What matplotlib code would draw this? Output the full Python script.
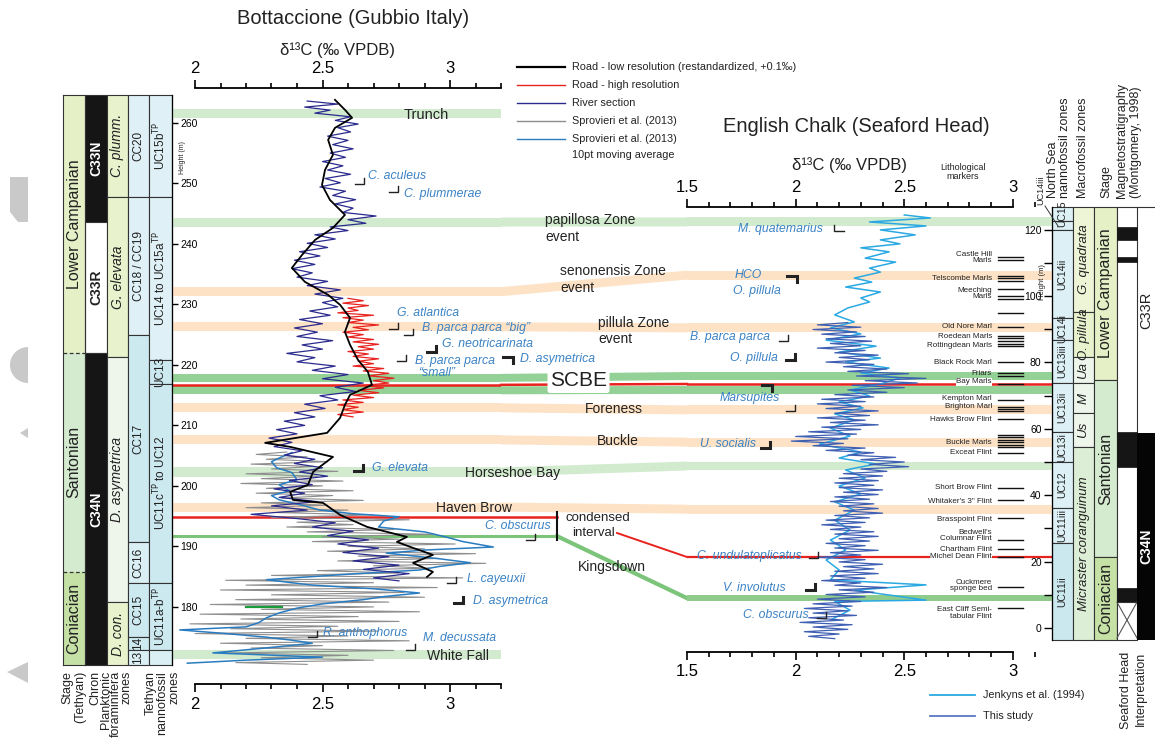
import numpy as np
import matplotlib.pyplot as plt
from matplotlib.patches import Rectangle, Polygon, Wedge
from matplotlib.transforms import blended_transform_factory as blend
from matplotlib.ticker import MultipleLocator

plt.rcParams['font.family'] = ['Liberation Sans', 'DejaVu Sans']

# ---------------- Bottaccione data (height m, d13C permil) ----------------
road_lo_h = [263.8, 262.15, 260.83, 259.17, 257.19, 254.71, 252.23, 249.75, 247.27, 244.79,
             242.64, 240.66, 238.18, 236.03, 233.72, 231.57, 229.92, 227.77, 225.45, 223.31,
             220.83, 218.84, 216.69, 215.04, 213.39, 211.24, 208.76, 207.11, 206.45, 204.79,
             202.31, 200.17, 199.01, 197.69, 197.19, 195.21, 193.22, 192.40, 191.57, 190.74,
             189.75, 188.60, 187.27, 185.79, 184.96]
road_lo_v = [2.549, 2.588, 2.616, 2.549, 2.522, 2.541, 2.510, 2.498, 2.529, 2.588,
             2.541, 2.471, 2.420, 2.380, 2.431, 2.522, 2.569, 2.608, 2.588, 2.608,
             2.639, 2.678, 2.694, 2.608, 2.588, 2.569, 2.518, 2.275, 2.373, 2.541,
             2.463, 2.443, 2.373, 2.384, 2.502, 2.569, 2.675, 2.753, 2.831, 2.792,
             2.855, 2.933, 2.855, 2.933, 2.910]

road_hi_h = [231.0, 230.6, 230.2, 229.8, 229.4, 229.0, 228.6, 228.2, 227.8, 227.4,
             227.0, 226.6, 226.2, 225.8, 225.4, 225.0, 224.6, 224.2, 223.8, 223.4,
             223.0, 222.6, 222.2, 221.8, 221.4, 221.0, 220.6, 220.2, 219.8, 219.4,
             219.0, 218.6, 218.2, 217.8, 217.4, 217.0, 216.6, 216.2, 215.8, 215.4,
             215.0, 214.6, 214.2, 213.8, 213.4, 213.0, 212.6, 212.2, 211.8, 211.4]
road_hi_v = [2.60, 2.66, 2.58, 2.68, 2.60, 2.64, 2.56, 2.70, 2.58, 2.66,
             2.60, 2.72, 2.62, 2.68, 2.58, 2.66, 2.60, 2.70, 2.62, 2.72,
             2.64, 2.70, 2.60, 2.68, 2.62, 2.72, 2.64, 2.70, 2.62, 2.74,
             2.66, 2.76, 2.68, 2.78, 2.70, 2.76, 2.66, 2.74, 2.64, 2.72,
             2.62, 2.70, 2.58, 2.66, 2.56, 2.64, 2.58, 2.66, 2.56, 2.62]

river_h = [263.6, 263.1, 262.6, 262.1, 261.6, 261.0, 260.4, 259.8, 259.2, 258.5,
           257.8, 257.1, 256.4, 255.7, 255.0, 254.3, 253.6, 252.9, 252.2, 251.5,
           250.8, 250.1, 249.4, 248.7, 248.0, 247.3, 246.6, 245.9, 245.2, 244.6,
           244.0, 243.4, 242.8, 242.2, 241.5, 240.8, 240.1, 239.4, 238.7, 238.0,
           237.3, 236.6, 235.9, 235.2, 234.5, 233.8, 233.1, 232.4, 231.7, 231.0,
           230.3, 229.6, 228.9, 228.2, 227.5, 226.8, 226.1, 225.4, 224.7, 224.0,
           223.3, 222.6, 221.9, 221.2, 220.5, 219.8, 219.1, 218.4, 217.7, 217.0,
           216.3, 215.6, 214.9, 214.2, 213.5, 212.8, 212.1, 211.4, 210.7, 210.0,
           209.3, 208.6, 207.9, 207.2, 206.5, 205.8, 205.1, 204.4, 203.7, 203.0,
           202.3, 201.6, 200.9, 200.2, 199.5, 198.8, 198.1, 197.4, 196.7, 196.0,
           195.3, 194.6, 193.9, 193.2, 192.5, 191.8, 191.1, 190.4, 189.7, 189.0,
           188.3, 187.6, 186.9, 186.2, 185.5, 184.8, 184.3]
river_v = [2.44, 2.56, 2.43, 2.53, 2.47, 2.61, 2.55, 2.64, 2.56, 2.61,
           2.52, 2.60, 2.54, 2.62, 2.53, 2.59, 2.50, 2.58, 2.52, 2.61,
           2.51, 2.57, 2.49, 2.59, 2.54, 2.63, 2.55, 2.62, 2.58, 2.71,
           2.60, 2.67, 2.53, 2.60, 2.47, 2.55, 2.44, 2.52, 2.41, 2.49,
           2.39, 2.47, 2.38, 2.46, 2.40, 2.52, 2.44, 2.57, 2.47, 2.58,
           2.50, 2.56, 2.45, 2.53, 2.41, 2.50, 2.39, 2.48, 2.40, 2.54,
           2.42, 2.50, 2.36, 2.47, 2.40, 2.55, 2.46, 2.60, 2.50, 2.66,
           2.55, 2.63, 2.49, 2.56, 2.43, 2.51, 2.39, 2.47, 2.35, 2.43,
           2.32, 2.40, 2.29, 2.38, 2.31, 2.42, 2.35, 2.47, 2.39, 2.50,
           2.41, 2.52, 2.37, 2.46, 2.31, 2.43, 2.33, 2.48, 2.30, 2.44,
           2.22, 2.40, 2.55, 2.46, 2.62, 2.52, 2.68, 2.56, 2.72, 2.58,
           2.76, 2.62, 2.80, 2.66, 2.84, 2.70, 2.80]

spr_h = [205.6, 205.2, 204.8, 204.4, 204.0, 203.6, 203.2, 202.8, 202.4, 202.0,
         201.6, 201.2, 200.8, 200.4, 200.0, 199.6, 199.2, 198.8, 198.4, 198.0,
         197.6, 197.2, 196.8, 196.4, 196.0, 195.6, 195.2, 194.8, 194.4, 194.0,
         193.6, 193.2, 192.8, 192.4, 192.0, 191.6, 191.2, 190.8, 190.4, 190.0,
         189.6, 189.2, 188.8, 188.4, 188.0, 187.6, 187.2, 186.8, 186.4, 186.0,
         185.6, 185.2, 184.8, 184.4, 184.0, 183.6, 183.2, 182.8, 182.4, 182.0,
         181.6, 181.2, 180.8, 180.4, 180.0, 179.6, 179.2, 178.8, 178.4, 178.0,
         177.6, 177.2, 176.8, 176.4, 176.0, 175.6, 175.2, 174.8, 174.4, 174.0,
         173.6, 173.2, 172.8, 172.4, 172.0, 171.6, 171.2, 170.8, 170.5]
spr_v = [2.36, 2.24, 2.44, 2.28, 2.52, 2.22, 2.46, 2.30, 2.56, 2.20,
         2.48, 2.26, 2.58, 2.18, 2.50, 2.28, 2.62, 2.24, 2.54, 2.34,
         2.66, 2.26, 2.52, 2.20, 2.60, 2.32, 2.70, 2.30, 2.84, 2.40,
         2.62, 2.36, 2.78, 2.44, 2.94, 2.50, 2.80, 2.46, 3.02, 2.60,
         2.90, 2.52, 3.10, 2.64, 2.96, 2.56, 3.14, 2.70, 2.92, 2.48,
         2.80, 2.30, 3.05, 2.12, 2.70, 2.20, 2.95, 2.10, 2.82, 2.30,
         2.90, 2.16, 2.76, 2.06, 2.70, 2.26, 2.88, 2.02, 2.64, 2.18,
         2.80, 1.98, 2.56, 2.14, 2.72, 2.00, 2.60, 2.20, 2.84, 2.10,
         2.50, 2.22, 2.78, 2.12, 2.60, 2.26, 2.70, 2.16, 2.44]

spr_ma_h = [205.5, 204.8, 204.0, 203.0, 202.2, 201.0, 200.2, 199.2, 198.4, 197.7,
            196.8, 196.0, 195.4, 194.9, 194.2, 193.2, 192.4, 191.6, 190.8, 189.9,
            189.4, 188.9, 188.0, 187.3, 186.7, 186.1, 185.4, 184.5, 183.6, 183.0,
            182.3, 181.7, 181.2, 180.5, 179.8, 179.0, 178.2, 177.4, 176.7, 176.2,
            175.6, 175.0, 174.5, 174.0, 173.3, 172.4, 171.7, 171.2, 170.7]
spr_ma_v = [2.38, 2.34, 2.30, 2.32, 2.38, 2.40, 2.33, 2.37, 2.30, 2.33,
            2.42, 2.49, 2.62, 2.80, 2.74, 2.72, 2.90, 2.98, 3.05, 3.17,
            2.90, 2.75, 2.95, 3.08, 2.96, 2.88, 2.60, 2.28, 2.46, 2.70,
            2.88, 2.74, 2.66, 2.50, 2.40, 2.33, 2.28, 2.25, 2.20, 1.94,
            2.12, 2.28, 2.38, 2.46, 2.30, 2.07, 2.50, 2.20, 1.97]

# ---------------- Seaford Head data ----------------
jenkyns_h = [124.4, 123.5, 122.3, 121.1, 119.9, 118.4, 116.9, 115.7, 114.5, 113.3,
             111.4, 110.2, 108.4, 107.2, 105.4, 104.2, 102.7, 101.2, 99.4, 98.2,
             96.4, 94.3, 92.2, 90.4, 88.6, 86.7, 84.9, 83.1, 81.3, 80.1,
             78.3, 76.8, 75.3, 73.5, 71.7, 69.9, 68.1, 66.3, 64.5, 62.7,
             60.2, 57.8, 55.4, 53.0, 51.2, 49.4, 47.6, 45.2, 42.8, 40.4,
             38.0, 35.5, 32.5, 29.5, 26.5, 23.5, 20.5, 17.5, 14.5, 13.0,
             11.4, 8.4, 8.0, 5.4, 2.4]
jenkyns_v = [2.50, 2.62, 2.34, 2.60, 2.39, 2.55, 2.39, 2.48, 2.30, 2.43,
             2.32, 2.46, 2.34, 2.39, 2.27, 2.35, 2.23, 2.39, 2.30, 2.34,
             2.24, 2.18, 2.27, 2.16, 2.30, 2.14, 2.37, 2.20, 2.39, 2.23,
             2.43, 2.30, 2.48, 2.39, 2.25, 2.34, 2.20, 2.31, 2.18, 2.27,
             2.16, 2.25, 2.11, 2.30, 2.20, 2.37, 2.23, 2.32, 2.20, 2.30,
             2.18, 2.27, 2.18, 2.25, 2.16, 2.23, 2.14, 2.20, 2.16, 2.60,
             2.27, 2.60, 2.18, 2.25, 2.16]

study_h = [92.0, 91.3, 90.6, 89.9, 89.2, 88.5, 87.8, 87.1, 86.4, 85.7,
           85.0, 84.3, 83.6, 82.9, 82.2, 81.5, 80.8, 80.1, 79.4, 78.7,
           78.0, 77.3, 76.6, 75.9, 75.2, 74.5, 73.8, 73.1, 72.4, 71.7,
           71.0, 70.3, 69.6, 68.9, 68.2, 67.5, 66.8, 66.1, 65.4, 64.7,
           64.0, 63.3, 62.6, 61.9, 61.2, 60.5, 59.8, 59.1, 58.4, 57.7,
           57.0, 56.3, 55.6, 54.9, 54.2, 53.5, 52.8, 52.1, 51.4, 50.7,
           50.0, 49.3, 48.6, 47.9, 47.2, 46.5, 45.8, 45.1, 44.4, 43.7,
           43.0, 42.3, 41.6, 40.9, 40.2, 39.5, 38.8, 38.1, 37.4, 36.7,
           36.0, 35.3, 34.6, 33.9, 33.2, 32.5, 31.8, 31.1, 30.4, 29.7,
           29.0, 28.3, 27.6, 26.9, 26.2, 25.5, 24.8, 24.1, 23.4, 22.7,
           22.0, 21.3, 20.6, 19.9, 19.2, 18.5, 17.8, 17.1, 16.4, 15.7,
           15.0, 14.3, 13.6, 12.9, 12.2, 11.5, 10.8, 10.1, 9.4, 8.7,
           8.0, 7.3, 6.6, 5.9, 5.2, 4.5, 3.8, 3.1, 2.4, 1.7,
           1.0, 0.3, -0.4, -1.1, -1.8, -2.5, -3.2]
study_v = [2.24, 2.10, 2.30, 2.08, 2.28, 2.12, 2.32, 2.14, 2.35, 2.16,
           2.30, 2.10, 2.32, 2.18, 2.38, 2.20, 2.34, 2.14, 2.36, 2.22,
           2.42, 2.24, 2.52, 2.28, 2.60, 2.32, 2.56, 2.26, 2.50, 2.24,
           2.42, 2.18, 2.36, 2.12, 2.32, 2.10, 2.30, 2.14, 2.38, 2.18,
           2.34, 2.10, 2.32, 2.16, 2.38, 2.12, 2.30, 2.06, 2.28, 2.00,
           2.24, 1.98, 2.22, 2.08, 2.32, 2.14, 2.36, 2.24, 2.46, 2.30,
           2.50, 2.34, 2.52, 2.30, 2.42, 2.22, 2.40, 2.20, 2.38, 2.18,
           2.36, 2.20, 2.40, 2.22, 2.38, 2.18, 2.34, 2.16, 2.36, 2.20,
           2.38, 2.22, 2.40, 2.18, 2.34, 2.14, 2.32, 2.12, 2.30, 2.16,
           2.36, 2.18, 2.38, 2.20, 2.34, 2.14, 2.32, 2.18, 2.38, 2.16,
           2.30, 2.10, 2.32, 2.20, 2.40, 2.22, 2.36, 2.18, 2.38, 2.16,
           2.32, 2.12, 2.30, 2.18, 2.42, 2.20, 2.36, 2.14, 2.32, 2.10,
           2.30, 2.08, 2.26, 2.04, 2.24, 2.08, 2.28, 2.06, 2.22, 2.02,
           2.26, 2.08, 2.24, 2.04, 2.20, 2.06, 2.18]

# ---------------- zonation (top m, bottom m, label) ----------------
bot_stage = [(264.6, 222.0, 'Lower Campanian'), (222.0, 185.8, 'Santonian'), (185.8, 170.4, 'Coniacian')]
bot_chron = [(264.6, 243.6, 'C33N'), (243.6, 222.0, 'C33R'), (222.0, 170.4, 'C34N')]
bot_plank = [(264.6, 247.8, 'C. plumm.'), (247.8, 221.3, 'G. elevata'),
             (221.3, 180.8, 'D. asymetrica'), (180.8, 170.4, 'D. con.')]
bot_cc = [(264.6, 247.8, 'CC20'), (247.8, 225.0, 'CC18 / CC19'), (225.0, 190.7, 'CC17'),
          (190.7, 184.0, 'CC16'), (184.0, 175.0, 'CC15'), (175.0, 172.9, '14'), (172.9, 170.4, '13')]
bot_uc = [(264.6, 247.8, r'UC15b$^{\rm TP}$'), (247.8, 220.8, r'UC14 to UC15a$^{\rm TP}$'),
          (220.8, 216.9, 'UC13'), (216.9, 184.0, r'UC11c$^{\rm TP}$ to UC12'),
          (184.0, 172.9, r'UC11a-b$^{\rm TP}$'), (172.9, 170.4, '')]

sea_uc = [(126.8, 122.6, 'UC15'), (122.6, 119.9, ''), (119.9, 93.4, 'UC14ii'), (93.4, 86.7, 'UC14i'),
          (86.7, 73.8, 'UC13iii'), (73.8, 59.0, 'UC13ii'), (59.0, 50.0, 'UC13i'), (50.0, 36.1, 'UC12'),
          (36.1, 25.6, 'UC11iii'), (25.6, -3.6, 'UC11ii')]
sea_macro = [(126.8, 95.2, 'G. quadrata'), (95.2, 81.5, 'O. pillula'), (81.5, 73.8, 'Ua'),
             (73.8, 64.7, 'M'), (64.7, 54.5, 'Us'), (54.5, -3.6, 'Micraster coranguinum')]
sea_stage = [(126.8, 74.7, 'Lower Campanian'), (74.7, 21.4, 'Santonian'), (21.4, -3.6, 'Coniacian')]
sea_magneto_black = [(120.8, 116.9), (111.7, 110.2), (59.0, 48.5), (12.0, 7.8)]
sea_magneto_gap = (7.8, -3.0)
sea_interp_c34n = (58.7, -3.6)

# correlation bands: name, Bottaccione height, Seaford Head height (None = local only)
band_names = ['Trunch', 'papillosa', 'senonensis', 'pillula', 'Foreness', 'Buckle',
              'Horseshoe Bay', 'Haven Brow', 'White Fall']
band_bot = [261.5, 243.6, 232.1, 226.3, 212.9, 207.6, 202.3, 196.5, 172.1]
band_sea = [None, 122.3, 106.3, 90.4, 65.7, 56.0, 48.8, 35.8, None]
band_kind = ['g', 'g', 'o', 'o', 'o', 'o', 'g', 'o', 'g']
scbe_bot = [217.85, 215.8]
scbe_sea = [75.9, 71.7]
scbe_red = (216.7, 73.5)
undulato_red = (194.9, 21.4)
kingsdown = (191.7, 9.0)

# lithological markers (Seaford Head)
litho_labels = ['Castle Hill\nMarls', 'Telscombe Marls', 'Meeching\nMarls', 'Old Nore Marl',
                'Roedean Marls', 'Rottingdean Marls', 'Black Rock Marl', 'Friars', 'Bay Marls',
                'Kempton Marl', 'Brighton Marl', 'Hawks Brow Flint', 'Buckle Marls', 'Exceat Flint',
                'Short Brow Flint', 'Whitaker\'s 3" Flint', 'Brasspoint Flint',
                'Bedwell\'s\nColumnar Flint', 'Chartham Flint', 'Michel Dean Flint',
                'Cuckmere\nsponge bed', 'East Cliff Semi-\ntabular Flint']
litho_label_h = [111.6, 105.4, 100.75, 90.7, 87.65, 85.2, 80.1, 76.7, 74.1, 69.0, 66.6, 62.95,
                 56.0, 53.0, 42.2, 38.25, 32.8, 27.9, 23.8, 21.4, 12.8, 4.5]
litho_line_h = [111.7, 110.8, 106.0, 105.3, 104.5, 102.1, 100.0, 99.2, 94.9, 90.7, 88.0, 87.2,
                86.4, 85.5, 84.9, 80.1, 76.8, 75.9, 73.5, 68.7, 66.6, 66.0, 65.4, 62.95,
                58.1, 57.4, 56.6, 55.9, 55.1, 54.5, 52.7, 42.2, 38.6, 33.1, 26.5, 23.8, 21.4,
                12.35, 6.0]

# ---------------- figure ----------------
W, H = 1155, 740
fig = plt.figure(figsize=(W / 100, H / 100), dpi=100)


def box(x0, y0, x1, y1):
    return [x0 / W, 1 - y1 / H, (x1 - x0) / W, (y1 - y0) / H]


under = fig.add_axes([0, 0, 1, 1], zorder=0)
under.set_xlim(0, W)
under.set_ylim(H, 0)
under.axis('off')

axL = fig.add_axes(box(172, 95, 501, 665), zorder=1)
axR = fig.add_axes(box(687, 207, 1052, 640), zorder=1)
over = fig.add_axes([0, 0, 1, 1], zorder=2)
over.set_xlim(0, W)
over.set_ylim(H, 0)
over.axis('off')

axL.set_xlim(2 - 23 / 255, 3.2)
axL.set_ylim(170.4, 264.6)
axR.set_xlim(1.5, 1.5 + 365 / 217.3)
axR.set_ylim(-3.6, 126.8)
for a in (axL, axR):
    a.patch.set_visible(False)

GREEN = '#d2ebcf'
ORANGE = '#fde2c6'
SCBE_G = '#94d196'
RED = '#e8231f'
FOSSIL = '#3a82c4'

# axes styling
for a, lo, hi, top_off, bot_off in ((axL, 2, 3.2, 5, 13.7), (axR, 1.5, 3.0, 0, 8.6)):
    a.set_xticks(np.arange(lo, hi + 0.01, 0.5))
    a.xaxis.set_minor_locator(MultipleLocator(0.1))
    a.xaxis.set_major_formatter(plt.FuncFormatter(lambda v, p: f'{v:g}'))
    a.tick_params(axis='x', which='both', top=True, bottom=True, labeltop=True,
                  labelbottom=True, direction='out', width=1.2, labelsize=12, pad=3)
    a.tick_params(axis='x', which='major', length=6)
    a.tick_params(axis='x', which='minor', length=3.8)
    for s in ('top', 'bottom'):
        a.spines[s].set_bounds(lo, hi)
        a.spines[s].set_linewidth(1.3)
    a.spines['top'].set_position(('outward', top_off))
    a.spines['bottom'].set_position(('outward', bot_off))

axL.spines['right'].set_visible(False)
axL.spines['left'].set_linewidth(0.9)
axL.set_yticks(np.arange(180, 261, 10))
axL.yaxis.set_ticks_position('left')
axL.tick_params(axis='y', direction='in', length=4.3, width=1, pad=-6, labelsize=7.5)
for t in axL.get_yticklabels():
    t.set_horizontalalignment('left')

axR.spines['left'].set_visible(False)
axR.spines['right'].set_linewidth(0.9)
axR.set_yticks(np.arange(0, 121, 20))
axR.yaxis.set_minor_locator(MultipleLocator(10))
axR.yaxis.set_ticks_position('right')
axR.tick_params(axis='y', which='both', direction='in', length=6, width=1, pad=-7.5, labelsize=7.5)
for t in axR.get_yticklabels():
    t.set_horizontalalignment('right')

# bands inside panels
for hb, hs, k in zip(band_bot, band_sea, band_kind):
    c = GREEN if k == 'g' else ORANGE
    axL.axhspan(hb - 0.75, hb + 0.75, color=c, lw=0, zorder=0)
    if hs is not None:
        axR.axhspan(hs - 1.35, hs + 1.35, color=c, lw=0, zorder=0)
for hb, hs in zip(scbe_bot, scbe_sea):
    axL.axhspan(hb - 0.66, hb + 0.66, color=SCBE_G, lw=0, zorder=0)
    axR.axhspan(hs - 1.2, hs + 1.2, color=SCBE_G, lw=0, zorder=0)
axR.axhspan(kingsdown[1] - 0.9, kingsdown[1] + 0.9, color='#8fcc8c', lw=0, zorder=0)
axR.axhline(undulato_red[1], color=RED, lw=1.6, zorder=0.5)
axL.axhline(scbe_red[0], color=RED, lw=1.8, zorder=0.5)
axR.axhline(scbe_red[1], color=RED, lw=1.8, zorder=0.5)


def px(ax, x, y):
    return under.transData.inverted().transform(ax.transData.transform((x, y)))


xl_end, xr_start = 3.2, 1.5
for hb, hs, k in zip(band_bot, band_sea, band_kind):
    if hs is None:
        continue
    c = GREEN if k == 'g' else ORANGE
    pts = [px(axL, xl_end, hb + 0.75), px(axR, xr_start, hs + 1.35),
           px(axR, xr_start, hs - 1.35), px(axL, xl_end, hb - 0.75)]
    under.add_patch(Polygon(pts, closed=True, fc=c, ec='none'))
for hb, hs in zip(scbe_bot, scbe_sea):
    pts = [px(axL, xl_end, hb + 0.66), px(axR, xr_start, hs + 1.2),
           px(axR, xr_start, hs - 1.2), px(axL, xl_end, hb - 0.66)]
    under.add_patch(Polygon(pts, closed=True, fc=SCBE_G, ec='none'))
p1, p2 = px(axL, xl_end, scbe_red[0]), px(axR, xr_start, scbe_red[1])
under.plot([p1[0], p2[0]], [p1[1], p2[1]], color=RED, lw=1.8)

tL = blend(under.transData, axL.transData)
tR = blend(under.transData, axR.transData)
tRo = blend(over.transData, axR.transData)
under.plot([172, 557], [undulato_red[0]] * 2, color=RED, lw=1.8, transform=tL)
under.plot([172, 557], [kingsdown[0]] * 2, color='#7cc47a', lw=2.2, transform=tL)
k1 = px(axL, 3.2, kingsdown[0])
k2 = px(axR, 1.5, kingsdown[1])
under.plot([557, k2[0]], [k1[1], k2[1]], color='#7cc47a', lw=3)
r2 = px(axR, 1.5, undulato_red[1])
under.plot([617, r2[0]], [533, r2[1]], color=RED, lw=1.4)

# curves
axL.plot(spr_v, spr_h, color='#8e8e8e', lw=0.8, zorder=2)
axL.plot(spr_ma_v, spr_ma_h, color='#2a7cc0', lw=1.1, zorder=3)
axL.plot(river_v, river_h, color='#2b2b8e', lw=0.9, zorder=4)
axL.plot(road_hi_v, road_hi_h, color=RED, lw=0.9, zorder=5)
axL.plot(road_lo_v, road_lo_h, color='black', lw=1.3, zorder=6)
axL.plot([2.2, 2.34], [180.0, 180.0], color='#1a9c3a', lw=1.6, zorder=6)
axR.plot(jenkyns_v, jenkyns_h, color='#2aa9e2', lw=1.1, zorder=2)
axR.plot(study_v, study_h, color='#3f5fb3', lw=0.9, zorder=3)


# zone columns
def column(trans, x0, x1, zones, colors, fs, style='normal', weight='normal', tcolors=None, edges=True):
    for i, ((t, b, lab), c) in enumerate(zip(zones, colors)):
        under.add_patch(Rectangle((x0, b), x1 - x0, t - b, transform=trans, fc=c,
                                  ec='#333333' if edges else 'none', lw=0.8, zorder=2))
        if lab:
            tc = tcolors[i] if tcolors else '#222222'
            under.text((x0 + x1) / 2, (t + b) / 2, lab, transform=trans, rotation=90,
                       ha='center', va='center', fontsize=fs, style=style, weight=weight,
                       color=tc, zorder=3)


column(tL, 63, 85, bot_stage, ['#e6f0c6', '#d4ebd0', '#c6e1a6'], 11.5, edges=False)
for y in (264.6, 170.4):
    under.plot([63, 85], [y, y], color='#333333', lw=0.8, transform=tL, zorder=3)
for x in (63, 85):
    under.plot([x, x], [170.4, 264.6], color='#333333', lw=0.8, transform=tL, zorder=3)
for y in (222.0, 185.8):
    under.plot([63, 85], [y, y], color='#333333', lw=0.9, ls=(0, (3, 2)), transform=tL, zorder=3)
column(tL, 85, 107, bot_chron, ['#151515', 'white', '#151515'], 10, weight='bold',
       tcolors=['white', '#222222', 'white'])
column(tL, 107, 128, bot_plank, ['#e8f2cc', '#e8f2cc', '#eef6eb', '#e8f2cc'], 10, style='italic')
column(tL, 128, 149, bot_cc, ['#dff1f6', '#dff1f6', '#cde9f0', '#d9eff4', '#cde9f0', '#cde9f0', '#d9eff4'], 8.5)
column(tL, 149, 172, bot_uc, ['#dff1f6', '#dff1f6', '#cde9f0', '#cde9f0', '#cde9f0', '#d9eff4'], 8.5)

column(tR, 1052, 1073, sea_uc, ['#dcf0f5'] * 9 + ['#cbe8ef'], 7.5)
column(tR, 1073, 1094, sea_macro, ['#eef5d6', '#e8f2cc', '#eef6eb', '#eef6eb', '#eef6eb', '#dceed6'],
       9.5, style='italic')
column(tR, 1094, 1117, sea_stage, ['#e6f0c6', '#d4ebd0', '#c6e1a6'], 11.5)
under.add_patch(Rectangle((1117, -3.6), 20, 130.4, transform=tR, fc='white', ec='#333333', lw=0.8, zorder=2))
for t, b in sea_magneto_black:
    under.add_patch(Rectangle((1117, b), 20, t - b, transform=tR, fc='#151515', ec='#151515', lw=0.5, zorder=3))
g_t, g_b = sea_magneto_gap
under.plot([1117, 1137], [g_t, g_b], color='#555555', lw=0.8, transform=tR, zorder=3)
under.plot([1117, 1137], [g_b, g_t], color='#555555', lw=0.8, transform=tR, zorder=3)
under.plot([1117, 1137], [g_t, g_t], color='#333333', lw=0.8, transform=tR, zorder=3)
c_t, c_b = sea_interp_c34n
under.add_patch(Rectangle((1137, c_b), 20, c_t - c_b, transform=tR, fc='#050505', ec='none', zorder=3))
under.plot([1137, 1155], [126.8, 126.8], color='#333333', lw=0.8, transform=tR, zorder=3)
under.text(1146, 95.8, 'C33R', transform=tR, rotation=90, ha='center', va='center', fontsize=10.5, color='#222222')
under.text(1146, 24.5, 'C34N', transform=tR, rotation=90, ha='center', va='center', fontsize=10,
           weight='bold', color='white', zorder=4)

# lithological markers (drawn above the bands)
for lab, h in zip(litho_labels, litho_label_h):
    kw = {}
    if lab in ('Bay Marls', 'Michel Dean Flint'):
        kw = dict(bbox=dict(fc='white', ec='none', pad=0.2))
    over.text(992, h, lab, transform=tRo, ha='right', va='center', fontsize=5.8,
              color='#222222', linespacing=0.95, zorder=4, **kw)
over.plot([[998] * len(litho_line_h), [1023] * len(litho_line_h)],
          [litho_line_h, litho_line_h], color='#111111', lw=1.0, transform=tRo, zorder=4)

# band labels
band_text = [('Trunch', 404, 115, 10.5), ('papillosa Zone', 545, 220, 10), ('event', 545, 237, 10),
             ('senonensis Zone', 560, 271, 10), ('event', 560, 288, 10),
             ('pillula Zone', 598, 323, 10), ('event', 598, 339, 10),
             ('Foreness', 585, 409, 10), ('Buckle', 597, 441, 10), ('Horseshoe Bay', 465, 473, 10),
             ('Haven Brow', 436, 508, 10), ('condensed', 566, 518, 9.5), ('interval', 572, 533, 9.5),
             ('Kingsdown', 578, 567, 10), ('White Fall', 427, 656, 10)]
for s, x, y, fs in band_text:
    over.text(x, y, s, ha='left', va='center', fontsize=fs, color='#222222')
over.text(550, 381, 'SCBE', ha='left', va='center', fontsize=15, color='#222222',
          bbox=dict(boxstyle='round,pad=0.12', fc='white', ec='none'))
over.plot([557, 557], [512, 540], color='#111111', lw=1.5)

# fossil datums: text, text x, text y, corner x, corner y, mark
fossils = [('C. aculeus', 368, 176, 364, 184, 'r'), ('C. plummerae', 404, 194, 398, 192, 'r'),
           ('G. atlantica', 397, 313, 398, 329, 'r'), ('B. parca parca \u201cbig\u201d', 422, 328, 413, 335, 'r'),
           ('G. neotricarinata', 442, 344, 436, 352, 'R'), ('B. parca parca', 415, 361, 406, 361, 'r'),
           ('\u201csmall\u201d', 418, 373, None, None, ''), ('D. asymetrica', 520, 359, 513, 357, 'T'),
           ('G. elevata', 372, 468, 363, 471, 'R'), ('C. obscurus', 485, 526, 535, 540, 'r'),
           ('L. cayeuxii', 467, 579, 456, 583, 'r'), ('D. asymetrica', 473, 601, 463, 603, 'R'),
           ('R. anthophorus', 323, 633, 317, 637, 'r'), ('M. decussata', 423, 638, 415, 650, 'r'),
           ('M. quatemarius', 738, 229, 834, 231, 'L'), ('HCO', 735, 275, 797, 276, 'T'),
           ('O. pillula', 733, 291, None, None, ''), ('B. parca parca', 690, 337, 788, 341, 'r'),
           ('O. pillula', 730, 358, 795, 360, 'R'), ('Marsupites', 720, 398, 772, 385, 'T'),
           ('', 0, 0, 795, 411, 'r'), ('U. socialis', 700, 444, 770, 448, 'R'),
           ('C. undulatoplicatus', 697, 556, 818, 558, 'r'), ('V. involutus', 723, 588, 815, 590, 'R'),
           ('C. obscurus', 743, 615, 826, 618, 'r')]
for name, tx, ty, cx, cy, mark in fossils:
    if name:
        over.text(tx, ty, name, ha='left', va='center', fontsize=8.8, style='italic', color=FOSSIL)
    if mark in ('r', 'R'):
        lw = 1.0 if mark == 'r' else 2.2
        over.plot([cx - 9, cx, cx], [cy, cy, cy - 6], color='#222222', lw=lw, solid_joinstyle='miter')
    elif mark == 'T':
        over.plot([cx - 10, cx, cx], [cy, cy, cy + 6], color='#222222', lw=2.2, solid_joinstyle='miter')
    elif mark == 'L':
        over.plot([cx, cx, cx + 10], [cy - 6, cy, cy], color='#222222', lw=1.0, solid_joinstyle='miter')

# titles and axis names
over.text(353, 19, 'Bottaccione (Gubbio Italy)', ha='center', va='center', fontsize=14.5, color='#222222')
over.text(338, 50, 'δ¹³C (‰ VPDB)', ha='center', va='center', fontsize=12, color='#222222')
over.text(856, 127, 'English Chalk (Seaford Head)', ha='center', va='center', fontsize=14.5, color='#222222')
over.text(850, 165, 'δ¹³C (‰ VPDB)', ha='center', va='center', fontsize=12, color='#222222')
over.text(963, 172, 'Lithological\nmarkers', ha='center', va='center', fontsize=6.5,
          color='#222222', linespacing=0.9)
over.text(183, 157, 'Height (m)', rotation=90, ha='center', va='center', fontsize=5, color='#222222')
over.text(1043, 282, 'Height (m)', rotation=90, ha='center', va='center', fontsize=5.5, color='#222222')
over.text(1041, 190, 'UC14iii', rotation=90, ha='center', va='center', fontsize=6.5, color='#222222')
over.plot([1045, 1058], [206, 226], color='#333333', lw=0.7)

# legends
leg = [('Road - low resolution (restandardized, +0.1‰)', 'black', 1.6),
       ('Road - high resolution', RED, 1.0), ('River section', '#2b2b8e', 1.0),
       ('Sprovieri et al. (2013)', '#8e8e8e', 1.0), ('Sprovieri et al. (2013)', '#2a7cc0', 1.0)]
for i, (s, c, lw) in enumerate(leg):
    y = 67 + 18 * i
    over.plot([517, 565], [y, y], color=c, lw=lw)
    over.text(572, y, s, ha='left', va='center', fontsize=7.8, color='#222222')
over.text(572, 155, '10pt moving average', ha='left', va='center', fontsize=7.8, color='#222222')
for y, s, c in ((695, 'Jenkyns et al. (1994)', '#2aa9e2'), (716, 'This study', '#5a78c2')):
    over.plot([930, 975], [y, y], color=c, lw=1.3)
    over.text(983, y, s, ha='left', va='center', fontsize=7.8, color='#222222')

# column headings
for s, x in (('Stage', 67), ('(Tethyan)', 80), ('Chron', 95), ('Planktonic', 106), ('foraminifera', 116),
             ('zones', 126), ('Tethyan', 151), ('nannofossil', 162), ('zones', 174)):
    over.text(x, 671, s, rotation=90, ha='center', va='top', fontsize=9, color='#222222')
for s, x in (('North Sea', 1053), ('nannofossil zones', 1065), ('Macrofossil zones', 1083),
             ('Stage', 1106), ('Magnetostratigraphy', 1122), ('(Montgomery, 1998)', 1136)):
    over.text(x, 198, s, rotation=90, ha='center', va='bottom', fontsize=9, color='#222222')
for s, x in (('Seaford Head', 1126), ('Interpretation', 1141)):
    over.text(x, 652, s, rotation=90, ha='center', va='top', fontsize=9, color='#222222')

# faint shapes cut off at the left page edge
for poly in ([(10, 177), (28, 177), (28, 222), (18, 222), (10, 212)],
             [(20, 433), (28, 428), (28, 438)], [(7, 672), (28, 662), (28, 683)]):
    under.add_patch(Polygon(poly, closed=True, fc='#c9c9c9', ec='none'))
under.add_patch(Wedge((28, 365), 18, 90, 270, fc='#c9c9c9', ec='none'))

fig.savefig('out.png', dpi=100)
